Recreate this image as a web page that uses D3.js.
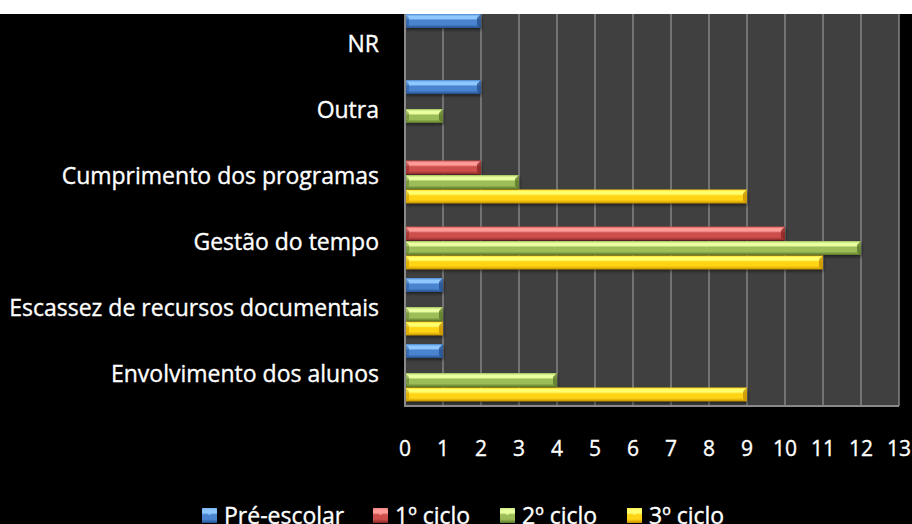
<!DOCTYPE html>
<html>
<head>
<meta charset="utf-8">
<script src="https://cdn.jsdelivr.net/npm/d3@7"></script>
<style>
  html, body { margin: 0; padding: 0; background: #000; }
  svg { display: block; }
  text { stroke: #fff; stroke-width: 0.35px; }
</style>
</head>
<body>
<svg id="chart" width="912" height="524"></svg>
<script>
// categories from bottom to top, as in the picture
const categories = ['Envolvimento dos alunos', 'Escassez de recursos documentais', 'Gestão do tempo',
  'Cumprimento dos programas', 'Outra', 'NR'];
const series = ['Pré-escolar', '1º ciclo', '2º ciclo', '3º ciclo'];

// values per series, same order as categories (0 = no bar)
const preEscolar = [1, 1, 0, 0, 2, 2];
const ciclo1 = [0, 0, 10, 2, 0, 0];
const ciclo2 = [4, 1, 12, 3, 1, 0];
const ciclo3 = [9, 1, 11, 9, 0, 0];
const xTicks = [0, 1, 2, 3, 4, 5, 6, 7, 8, 9, 10, 11, 12, 13];

const values = [preEscolar, ciclo1, ciclo2, ciclo3];
const colors = [
  { light: '#8fc8ff', base: '#4a84d0', dark: '#24508c' },
  { light: '#ff9c9a', base: '#cc4f4c', dark: '#862624' },
  { light: '#eaffa0', base: '#9cbd58', dark: '#5a7628' },
  { light: '#ffff70', base: '#ffd414', dark: '#c48e00' }
];

let svg = d3.select('svg#chart');
let plotLeft = 405, plotRight = 899, plotTop = 10, plotBottom = 406;

// gradients for the bevelled bars
let defs = svg.append('defs');
colors.forEach((c, i) => {
  let g = defs.append('linearGradient').attr('id', 'g' + i)
    .attr('x1', 0).attr('y1', 0).attr('x2', 0).attr('y2', 1);
  g.append('stop').attr('offset', '0%').attr('stop-color', c.base);
  g.append('stop').attr('offset', '15%').attr('stop-color', c.light);
  g.append('stop').attr('offset', '32%').attr('stop-color', c.light);
  g.append('stop').attr('offset', '45%').attr('stop-color', c.base);
  g.append('stop').attr('offset', '75%').attr('stop-color', c.base);
  g.append('stop').attr('offset', '100%').attr('stop-color', c.dark);
});
let blur = defs.append('filter').attr('id', 'shadow')
  .attr('x', '-5%').attr('y', '-30%').attr('width', '115%').attr('height', '180%');
blur.append('feGaussianBlur').attr('stdDeviation', 1.5);

let x = d3.scaleLinear().domain([0, 13]).range([plotLeft, plotRight]);
let y0 = d3.scaleBand().domain(categories).range([plotBottom, plotTop]);
let y1 = d3.scaleBand().domain(series).range([4, y0.bandwidth() - 4]);

// plot area
svg.append('rect')
  .attr('x', plotLeft).attr('y', 0)
  .attr('width', plotRight - plotLeft).attr('height', plotBottom)
  .attr('fill', '#404040');

// vertical grid lines
svg.append('g').selectAll('line').data(xTicks.slice(1)).join('line')
  .attr('x1', d => x(d)).attr('x2', d => x(d))
  .attr('y1', 0).attr('y2', plotBottom)
  .attr('stroke', '#858585').attr('stroke-width', 1.5);

// bars
let groups = svg.append('g').selectAll('g').data(categories).join('g')
  .attr('transform', d => 'translate(0,' + y0(d) + ')');

groups.each(function (cat, ci) {
  let g = d3.select(this);
  series.forEach((s, si) => {
    let v = values[si][ci];
    if (!v) return;
    let by = y1(s), bh = y1.bandwidth() - 0.5, bw = x(v) - x(0);
    g.append('rect')
      .attr('x', x(0) + 1).attr('y', by + 2)
      .attr('width', bw).attr('height', bh)
      .attr('fill', '#000').attr('opacity', 0.45)
      .attr('filter', 'url(#shadow)');
    g.append('rect')
      .attr('x', x(0)).attr('y', by)
      .attr('width', bw).attr('height', bh)
      .attr('fill', 'url(#g' + si + ')');
    // dark chamfer at the right end
    g.append('path')
      .attr('d', 'M' + (x(v) - 4) + ',' + (by + 4) + 'L' + x(v) + ',' + by + 'L' + x(v) + ',' + (by + bh)
        + 'L' + (x(v) - 4) + ',' + (by + bh - 3) + 'Z')
      .attr('fill', colors[si].dark).attr('opacity', 0.8);
    // lighter chamfer at the left end
    g.append('path')
      .attr('d', 'M' + x(0) + ',' + by + 'L' + (x(0) + 4) + ',' + (by + 4) + 'L' + (x(0) + 4) + ',' + (by + bh - 3)
        + 'L' + x(0) + ',' + (by + bh) + 'Z')
      .attr('fill', colors[si].dark).attr('opacity', 0.5);
  });
});

// axis lines
svg.append('line').attr('x1', plotLeft).attr('x2', plotLeft).attr('y1', 0).attr('y2', plotBottom + 1)
  .attr('stroke', '#8a8a8a').attr('stroke-width', 2);
svg.append('line').attr('x1', plotLeft).attr('x2', plotRight).attr('y1', plotBottom).attr('y2', plotBottom)
  .attr('stroke', '#8a8a8a').attr('stroke-width', 2);

// white strip at the top where the picture is cut
svg.append('rect').attr('x', 0).attr('y', 0).attr('width', 912).attr('height', 14).attr('fill', '#fff');

let font = '"Open Sans", Lato, sans-serif';

// x tick labels
svg.append('g').selectAll('text').data(xTicks).join('text')
  .attr('x', d => x(d)).attr('y', 456)
  .attr('text-anchor', 'middle')
  .attr('fill', '#fff').attr('font-family', font).attr('font-size', 21)
  .text(d => d);

// category labels
svg.append('g').selectAll('text').data(categories).join('text')
  .attr('x', 379).attr('y', d => y0(d) + y0.bandwidth() / 2 + 9)
  .attr('text-anchor', 'end')
  .attr('fill', '#fff').attr('font-family', font).attr('font-size', 23)
  .text(d => d);

// legend
let legendX = [202, 373, 500, 627];
let legend = svg.append('g').selectAll('g').data(series).join('g')
  .attr('transform', (d, i) => 'translate(' + legendX[i] + ',508)');
legend.append('rect').attr('width', 15).attr('height', 15)
  .attr('fill', (d, i) => 'url(#g' + i + ')');
legend.append('path').attr('d', 'M0,0L7.5,7.5L15,0Z')
  .attr('fill', (d, i) => colors[i].light).attr('opacity', 0.7);
legend.append('text')
  .attr('x', 22).attr('y', 16)
  .attr('fill', '#fff').attr('font-family', font).attr('font-size', 23)
  .text(d => d);
</script>
</body>
</html>
